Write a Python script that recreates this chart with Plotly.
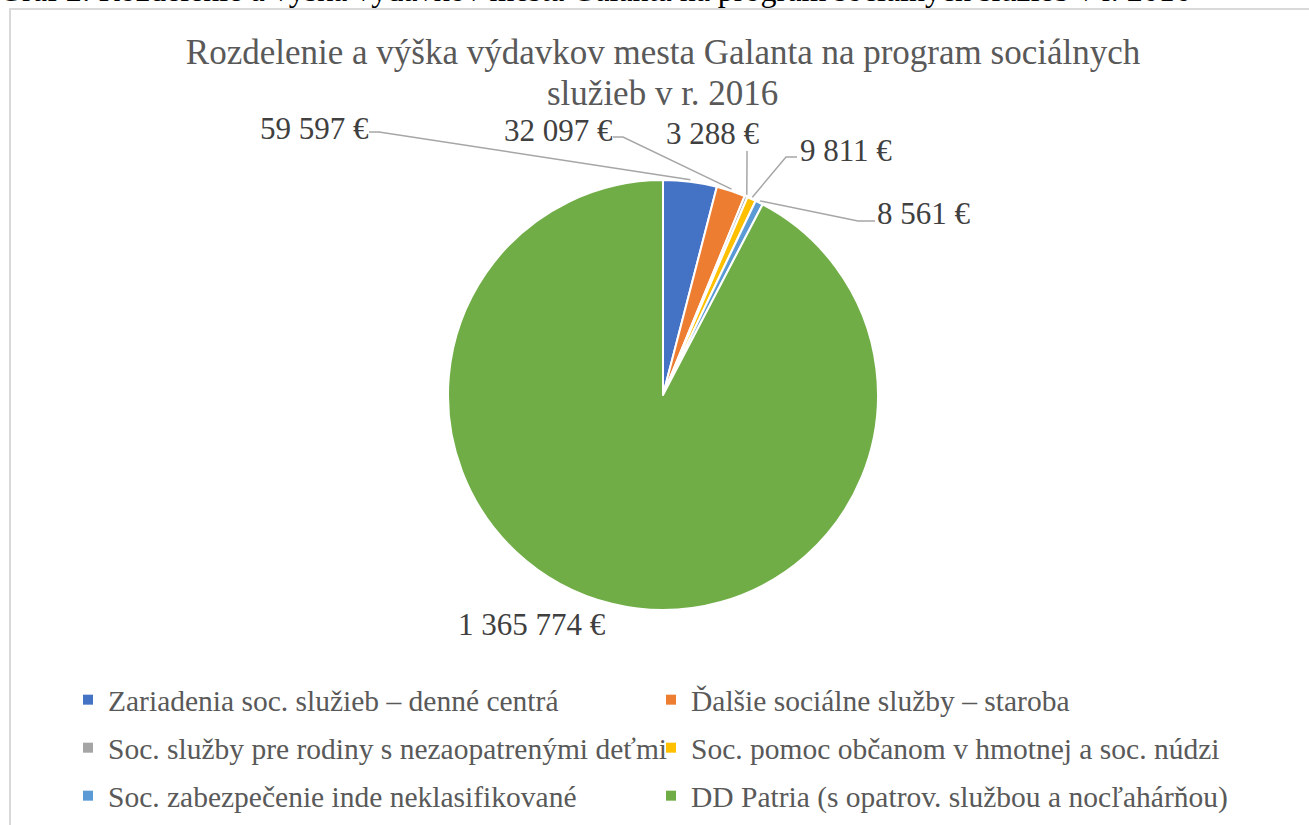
import math
import plotly.graph_objects as go

# ---- data ----
categories = [
    "Zariadenia soc. služieb – denné centrá",
    "Ďalšie sociálne služby – staroba",
    "Soc. služby pre rodiny s nezaopatrenými deťmi",
    "Soc. pomoc občanom v hmotnej a soc. núdzi",
    "Soc. zabezpečenie inde neklasifikované",
    "DD Patria (s opatrov. službou a nocľahárňou)",
]
values = [59597, 32097, 3288, 9811, 8561, 1365774]
colors = ["#4472C4", "#ED7D31", "#A5A5A5", "#FFC000", "#5B9BD5", "#70AD47"]
title_line1 = "Rozdelenie a výška výdavkov mesta Galanta na program sociálnych"
title_line2 = "služieb v r. 2016"
caption_text = "Graf 2: Rozdelenie a výška výdavkov mesta Galanta na program sociálnych služieb v r. 2016"

# ---- layout constants (pixels) ----
W, H = 1309, 825
CX, CY, R = 663, 395, 215
# label centre positions and leader-line (start, elbow) points
label_pos = [(314, 128), (558, 130), (713, 133), (846, 150), (924, 213), (532, 624)]
leader_pts = [
    [(369, 132), (379, 132)],
    [(613, 137), (623, 137)],
    [(747, 151), (747, 160)],
    [(797, 157), (786, 157)],
    [(875, 221), (858, 221)],
    None,
]
legend_rows_y = [700, 748, 796]


def px(x):
    return x / W


def py(y):
    return 1 - y / H


def fmt(v):
    return f"{v:,}".replace(",", " ") + " €"


fig = go.Figure()
fig.add_trace(go.Pie(
    labels=categories,
    values=values,
    marker=dict(colors=colors, line=dict(color="white", width=2)),
    sort=False,
    direction="clockwise",
    rotation=0,
    textinfo="none",
    showlegend=False,
    hoverinfo="label+value+percent",
    domain=dict(x=[px(CX - R), px(CX + R)], y=[py(CY + R), py(CY - R)]),
))

# legend entries: two per row, one legend per row
legend_ids = ["legend", "legend2", "legend3"]
for i, (name, col) in enumerate(zip(categories, colors)):
    fig.add_trace(go.Scatter(
        x=[None], y=[None], mode="markers", name=name,
        marker=dict(symbol="square", size=10, color=col),
        legend=legend_ids[i // 2], hoverinfo="skip",
    ))

total = sum(values)
shapes = []
annotations = []
cum = 0
for i, v in enumerate(values):
    mid = (cum + v / 2) / total * 2 * math.pi
    cum += v
    ex = CX + (R + 2) * math.sin(mid)
    ey = CY - (R + 2) * math.cos(mid)
    lx, ly = label_pos[i]
    annotations.append(dict(
        x=px(lx), y=py(ly), xref="paper", yref="paper",
        text=fmt(v), showarrow=False, xanchor="center", yanchor="middle",
        font=dict(family="Liberation Serif", size=31, color="#404040"),
    ))
    if leader_pts[i] is not None:
        (sx, sy), (bx, by) = leader_pts[i]
        path = f"M {px(sx)} {py(sy)} L {px(bx)} {py(by)} L {px(ex)} {py(ey)}"
        shapes.append(dict(type="path", xref="paper", yref="paper", path=path,
                           line=dict(color="#A6A6A6", width=1.5)))

# chart border
shapes.append(dict(type="rect", xref="paper", yref="paper",
                   x0=px(10), x1=px(1330), y0=py(9), y1=py(860),
                   line=dict(color="#D9D9D9", width=2), layer="below"))

# second title line
annotations.append(dict(
    x=px(663), y=py(93), xref="paper", yref="paper", xanchor="center", yanchor="middle",
    text=title_line2, showarrow=False,
    font=dict(family="Liberation Serif", size=35, color="#595959"),
))

# cropped caption above the chart
annotations.append(dict(
    x=px(-3), y=py(10), xref="paper", yref="paper", xanchor="left", yanchor="bottom",
    text=caption_text, showarrow=False,
    font=dict(family="Liberation Serif", size=32, color="#000000"),
))

legend_common = dict(
    orientation="h", xanchor="left", yanchor="middle",
    entrywidth=538, entrywidthmode="pixels",
    font=dict(family="Liberation Serif", size=29.5, color="#595959"),
    bgcolor="rgba(0,0,0,0)",
)

fig.update_layout(
    width=W, height=H,
    margin=dict(l=0, r=0, t=0, b=0, autoexpand=False),
    paper_bgcolor="white",
    plot_bgcolor="white",
    xaxis=dict(visible=False),
    yaxis=dict(visible=False),
    title=dict(text=title_line1, x=px(663), xanchor="center", y=py(52), yanchor="middle",
               font=dict(family="Liberation Serif", size=35, color="#595959")),
    legend=dict(x=px(68), y=py(legend_rows_y[0]), **legend_common),
    legend2=dict(x=px(68), y=py(legend_rows_y[1]), **legend_common),
    legend3=dict(x=px(68), y=py(legend_rows_y[2]), **legend_common),
    shapes=shapes,
    annotations=annotations,
)

fig.write_html("out.html", config={"displayModeBar": False},
               post_script="document.body.style.margin='0px';")
